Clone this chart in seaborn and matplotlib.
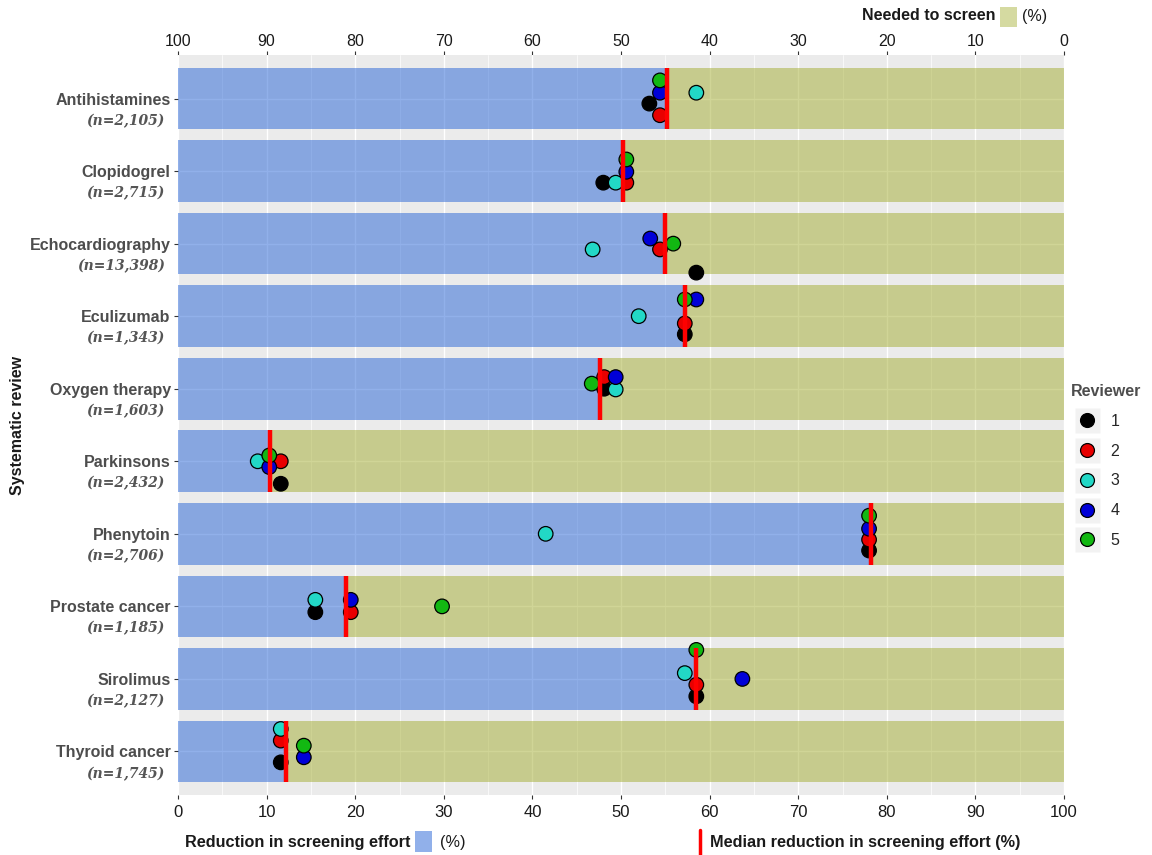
import matplotlib
matplotlib.use("Agg")
import matplotlib.pyplot as plt
from matplotlib import font_manager
from matplotlib.lines import Line2D
from matplotlib.patches import Rectangle
from matplotlib.legend_handler import HandlerTuple
from matplotlib.ticker import MultipleLocator
from matplotlib.transforms import blended_transform_factory
import numpy as np
import pandas as pd
import seaborn as sns

# ---- data -------------------------------------------------------------
reviews = ["Antihistamines", "Clopidogrel", "Echocardiography", "Eculizumab",
           "Oxygen therapy", "Parkinsons", "Phenytoin", "Prostate cancer",
           "Sirolimus", "Thyroid cancer"]
n_records = ["2,105", "2,715", "13,398", "1,343", "1,603",
             "2,432", "2,706", "1,185", "2,127", "1,745"]
median_reduction = [55.2, 50.2, 55.0, 57.2, 47.6, 10.4, 78.2, 19.0, 58.5, 12.2]

reviewer_ids = ["1", "2", "3", "4", "5"]
reviewer_colors = ["#000000", "#E80000", "#22D8C6", "#0000D8", "#12B812"]

# reduction in screening effort (%) reached by each reviewer, per review
reduction_r1 = [53.2, 48.0, 58.5, 57.2, 48.1, 11.6, 78.0, 15.5, 58.5, 11.6]
reduction_r2 = [54.4, 50.6, 54.4, 57.2, 48.1, 11.6, 78.0, 19.5, 58.5, 11.6]
reduction_r3 = [58.5, 49.4, 46.8, 52.0, 49.4, 9.0, 41.5, 15.5, 57.2, 11.6]
reduction_r4 = [54.4, 50.6, 53.3, 58.5, 49.4, 10.3, 78.0, 19.5, 63.7, 14.2]
reduction_r5 = [54.4, 50.6, 55.9, 57.2, 46.7, 10.3, 78.0, 29.8, 58.5, 14.2]

# vertical jitter of each reviewer's point inside its review band
jitter_r1 = [0.07, 0.16, 0.40, 0.25, 0.00, 0.31, 0.23, 0.08, 0.24, 0.15]
jitter_r2 = [0.23, 0.16, 0.08, 0.10, -0.16, 0.00, 0.08, 0.08, 0.08, -0.15]
jitter_r3 = [-0.08, 0.16, 0.08, 0.00, 0.01, 0.00, 0.00, -0.09, -0.08, -0.31]
jitter_r4 = [-0.08, 0.01, -0.07, -0.23, -0.16, 0.08, -0.07, -0.09, 0.00, 0.08]
jitter_r5 = [-0.25, -0.16, 0.00, -0.23, -0.07, -0.08, -0.25, 0.00, -0.40, -0.08]

reductions = [reduction_r1, reduction_r2, reduction_r3, reduction_r4, reduction_r5]
jitters = [jitter_r1, jitter_r2, jitter_r3, jitter_r4, jitter_r5]

# ---- style ------------------------------------------------------------
sns.set_theme(style="darkgrid", rc={"axes.facecolor": "#EBEBEB",
                                    "grid.color": "white"})
plt.rcParams["font.family"] = ["Liberation Sans", "DejaVu Sans"]
available = {f.name for f in font_manager.fontManager.ttflist}
has_narrow = "Liberation Sans Narrow" in available
narrow = ["Liberation Sans Narrow", "DejaVu Sans"] if has_narrow else ["Liberation Sans", "DejaVu Sans"]
caption_size = 14 if has_narrow else 11.7
ticklab_size = 13 if has_narrow else 12

BLUE = "#2563D6"
OLIVE = "#A3AD30"
BAR_ALPHA = 0.5
BAR_H = 0.85
TXT = "#4D4D4D"

W, H = 1152, 855
fig = plt.figure(figsize=(W / 100, H / 100), dpi=100)
ax = fig.add_axes([178 / W, 1 - 795 / H, (1064 - 178) / W, (795 - 55) / H])

pos = np.arange(len(reviews))
bars = pd.DataFrame({"review": reviews, "pos": pos,
                     "reduction": median_reduction})
bars["needed"] = 100 - bars["reduction"]

# blue: reduction in screening effort; olive: remaining share to screen
sns.barplot(data=bars, x="reduction", y="pos", orient="h", native_scale=True,
            color=BLUE, saturation=1, alpha=BAR_ALPHA, width=BAR_H,
            errorbar=None, linewidth=0, ax=ax)
ax.barh(bars["pos"], bars["needed"], left=bars["reduction"], height=BAR_H,
        color=OLIVE, alpha=BAR_ALPHA, linewidth=0)

# reviewer points
rows = []
for rid, vals, jit in zip(reviewer_ids, reductions, jitters):
    for p, v, j in zip(pos, vals, jit):
        rows.append({"reviewer": rid, "value": v, "y": p + j})
pts = pd.DataFrame(rows)
sns.scatterplot(data=pts, x="value", y="y", hue="reviewer",
                palette=dict(zip(reviewer_ids, reviewer_colors)),
                s=110, edgecolor="black", linewidth=0.9, zorder=4,
                legend=False, ax=ax)

# median reduction markers
ax.vlines(bars["reduction"], bars["pos"] - BAR_H / 2, bars["pos"] + BAR_H / 2,
          color="#FF0000", linewidth=3.2, zorder=5)

# ---- axes -------------------------------------------------------------
ax.set_xlim(0, 100)
ax.set_ylim(len(reviews) - 0.4, -0.6)
ax.set_xlabel("")
ax.set_ylabel("")
ax.xaxis.set_major_locator(MultipleLocator(10))
ax.xaxis.set_minor_locator(MultipleLocator(5))
ax.grid(which="major", axis="both", color="white", linewidth=1.0)
ax.grid(which="minor", axis="x", color="white", linewidth=0.5)
for s in ax.spines.values():
    s.set_visible(False)

ax.set_yticks(pos)
ax.set_yticklabels(reviews, fontsize=11.5, fontweight="bold", color=TXT)
ax.tick_params(axis="y", left=True, length=2.75, width=0.8, color="#333333",
               pad=2.5)
ax.tick_params(axis="x", which="major", bottom=True, length=2.75, width=0.8,
               color="#333333", pad=4.5, labelsize=ticklab_size,
               labelcolor="#1A1A1A")
ax.tick_params(axis="x", which="minor", bottom=False, length=0)
for lab in ax.get_xticklabels():
    lab.set_family(narrow)

trans = blended_transform_factory(ax.transAxes, ax.transData)
for p, n in zip(pos, n_records):
    ax.annotate(f"(n={n})", xy=(0, p), xycoords=trans, xytext=(-9.5, -16),
                textcoords="offset points", ha="right", va="center",
                family="DejaVu Serif", style="italic", weight="bold",
                fontsize=10, color="#555555")

# share needed to screen on the top axis
sec = ax.secondary_xaxis("top", functions=(lambda v: 100 - v, lambda v: 100 - v))
sec.set_xticks(np.arange(0, 101, 10))
sec.tick_params(axis="x", top=True, length=2.75, width=0.8, color="#333333",
                pad=1.5, labelsize=11.5, labelcolor="#1A1A1A")
for s in sec.spines.values():
    s.set_visible(False)

fig.text(18 / W, 1 - 425 / H, "Systematic review", rotation=90, ha="center",
         va="center", fontsize=11.5, fontweight="bold", color="#1A1A1A")

# ---- legends ----------------------------------------------------------
handles = [(Line2D([], [], marker="s", ms=18, mfc="#F2F2F2", mec="none", ls=""),
            Line2D([], [], marker="o", ms=10, mfc=c, mec="black", mew=0.9, ls=""))
           for c in reviewer_colors]
leg = fig.legend(handles, reviewer_ids, title="Reviewer", loc="upper left",
                 bbox_to_anchor=(1057 / W, 1 - 370 / H), frameon=False,
                 handler_map={tuple: HandlerTuple(ndivide=1)},
                 handlelength=2.0, handletextpad=0.45, labelspacing=0.92,
                 fontsize=11.5, alignment="left",
                 title_fontproperties={"weight": "bold", "size": 11.5})
leg.get_title().set_color(TXT)

# top caption: needed to screen
fig.text(862 / W, 1 - 16 / H, "Needed to screen", ha="left", va="center",
         fontsize=11.5, fontweight="bold", color="#1A1A1A")
fig.add_artist(Rectangle((1000 / W, 1 - 27 / H), 17 / W, 20 / H,
                         transform=fig.transFigure, color=OLIVE, alpha=0.45,
                         linewidth=0))
fig.text(1022 / W, 1 - 16 / H, "(%)", ha="left", va="center",
         fontsize=11.5, color="#1A1A1A")

# bottom captions
fig.text(185 / W, 1 - 842 / H, "Reduction in screening effort", ha="left",
         va="center", fontsize=caption_size, fontweight="bold", family=narrow,
         color="#1A1A1A")
fig.add_artist(Rectangle((415 / W, 1 - 852 / H), 17 / W, 21 / H,
                         transform=fig.transFigure, color=BLUE, alpha=0.5,
                         linewidth=0))
fig.text(440 / W, 1 - 842 / H, "(%)", ha="left", va="center",
         fontsize=caption_size, family=narrow, color="#1A1A1A")
fig.add_artist(Line2D([700 / W, 700 / W], [1 - 830 / H, 1 - 855 / H],
                      transform=fig.transFigure, color="#FF0000", linewidth=2.5))
fig.text(710 / W, 1 - 842 / H, "Median reduction in screening effort (%)",
         ha="left", va="center", fontsize=caption_size, fontweight="bold",
         family=narrow, color="#1A1A1A")

fig.savefig("out.png", dpi=100)
